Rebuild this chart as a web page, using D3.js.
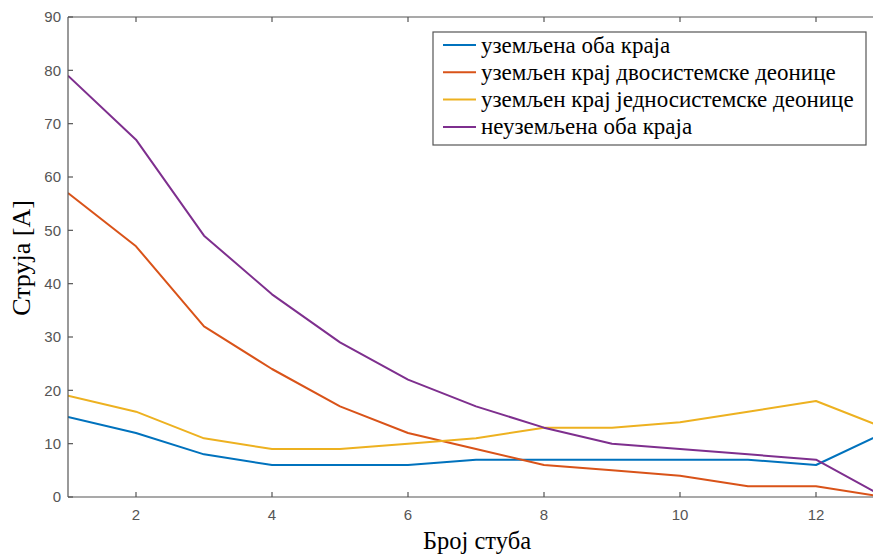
<!DOCTYPE html>
<html>
<head>
<meta charset="utf-8">
<script src="https://cdn.jsdelivr.net/npm/d3@7"></script>
<style>
  body { margin: 0; background: #fff; }
  .tick-label { font-family: "Liberation Sans", Arial, sans-serif; font-size: 15px; fill: #555; }
  .axis-label { font-family: "Liberation Serif", "Times New Roman", serif; fill: #000; }
  .legend-text { font-family: "Liberation Serif", "Times New Roman", serif; font-size: 23px; fill: #000; }
</style>
</head>
<body>
<div id="chart"></div>
<script>
// data
const xValues = [1, 2, 3, 4, 5, 6, 7, 8, 9, 10, 11, 12, 13];
const bothGrounded = [15, 12, 8, 6, 6, 6, 7, 7, 7, 7, 7, 6, 12];
const doubleGrounded = [57, 47, 32, 24, 17, 12, 9, 6, 5, 4, 2, 2, 0];
const singleGrounded = [19, 16, 11, 9, 9, 10, 11, 13, 13, 14, 16, 18, 13];
const noneGrounded = [79, 67, 49, 38, 29, 22, 17, 13, 10, 9, 8, 7, 0];
const seriesNames = [
  'уземљена оба краја',
  'уземљен крај двосистемске деонице',
  'уземљен крај једносистемске деонице',
  'неуземљена оба краја'
];
const seriesColors = ['#0072BD', '#D95319', '#EDB120', '#7E2F8E'];
const xTicks = [2, 4, 6, 8, 10, 12];
const yTicks = [0, 10, 20, 30, 40, 50, 60, 70, 80, 90];
const xLabel = 'Број стуба';
const yLabel = 'Струја [A]';

// chart static params
const width = 873, height = 556;
const margin = {top: 17, right: -11, bottom: 59, left: 68};
const innerW = width - margin.left - margin.right;
const innerH = height - margin.top - margin.bottom;
const axisColor = '#555';
const tickLen = 5;

const svg = d3.select('#chart').append('svg')
    .attr('width', width)
    .attr('height', height);

const g = svg.append('g')
    .attr('transform', `translate(${margin.left},${margin.top})`);

const x = d3.scaleLinear().domain([1, 13]).range([0, innerW]);
const y = d3.scaleLinear().domain([0, 90]).range([innerH, 0]);

// clip the lines to the axes box
g.append('defs').append('clipPath').attr('id', 'clip')
  .append('rect').attr('width', innerW).attr('height', innerH + 2).attr('y', -1);

// lines
const allSeries = [bothGrounded, doubleGrounded, singleGrounded, noneGrounded];
const line = d3.line().x((d, i) => x(xValues[i])).y(d => y(d));
const lineArea = g.append('g').attr('clip-path', 'url(#clip)');
allSeries.forEach((s, k) => {
  lineArea.append('path')
    .datum(s)
    .attr('fill', 'none')
    .attr('stroke', seriesColors[k])
    .attr('stroke-width', 2)
    .attr('stroke-linejoin', 'round')
    .attr('d', line);
});

// axes box (left, bottom, top)
const box = g.append('g').attr('stroke', axisColor).attr('stroke-width', 1.2).attr('fill', 'none');
box.append('line').attr('x1', 0).attr('x2', 0).attr('y1', 0).attr('y2', innerH);
box.append('line').attr('x1', 0).attr('x2', innerW).attr('y1', innerH).attr('y2', innerH);
box.append('line').attr('x1', 0).attr('x2', innerW).attr('y1', 0).attr('y2', 0);

// y ticks (inward)
yTicks.forEach(t => {
  box.append('line').attr('x1', 0).attr('x2', tickLen).attr('y1', y(t)).attr('y2', y(t));
  g.append('text')
    .attr('class', 'tick-label')
    .attr('x', -7)
    .attr('y', y(t))
    .attr('dy', '0.35em')
    .attr('text-anchor', 'end')
    .text(t);
});

// x ticks (inward, bottom and top)
xTicks.forEach(t => {
  box.append('line').attr('x1', x(t)).attr('x2', x(t)).attr('y1', innerH).attr('y2', innerH - tickLen);
  box.append('line').attr('x1', x(t)).attr('x2', x(t)).attr('y1', 0).attr('y2', tickLen);
  g.append('text')
    .attr('class', 'tick-label')
    .attr('x', x(t))
    .attr('y', innerH + 18)
    .attr('dy', '0.35em')
    .attr('text-anchor', 'middle')
    .text(t);
});

// axis labels
svg.append('text')
    .attr('class', 'axis-label')
    .style('font-size', '24.5px')
    .attr('text-anchor', 'middle')
    .attr('transform', `translate(477, 549)`)
    .text(xLabel);

svg.append('text')
    .attr('class', 'axis-label')
    .style('font-size', '26px')
    .attr('text-anchor', 'middle')
    .attr('transform', `translate(30, 258) rotate(-90)`)
    .text(yLabel);

// legend
const legend = svg.append('g').attr('transform', 'translate(433,32)');
legend.append('rect')
    .attr('width', 433).attr('height', 113)
    .attr('fill', '#fff').attr('stroke', axisColor).attr('stroke-width', 1.2);
seriesNames.forEach((name, k) => {
  const yy = 13 + k * 27.3;
  legend.append('line')
    .attr('x1', 10).attr('x2', 43).attr('y1', yy).attr('y2', yy)
    .attr('stroke', seriesColors[k]).attr('stroke-width', 2);
  legend.append('text')
    .attr('class', 'legend-text')
    .attr('x', 48).attr('y', yy).attr('dy', '0.33em')
    .text(name);
});
</script>
</body>
</html>
